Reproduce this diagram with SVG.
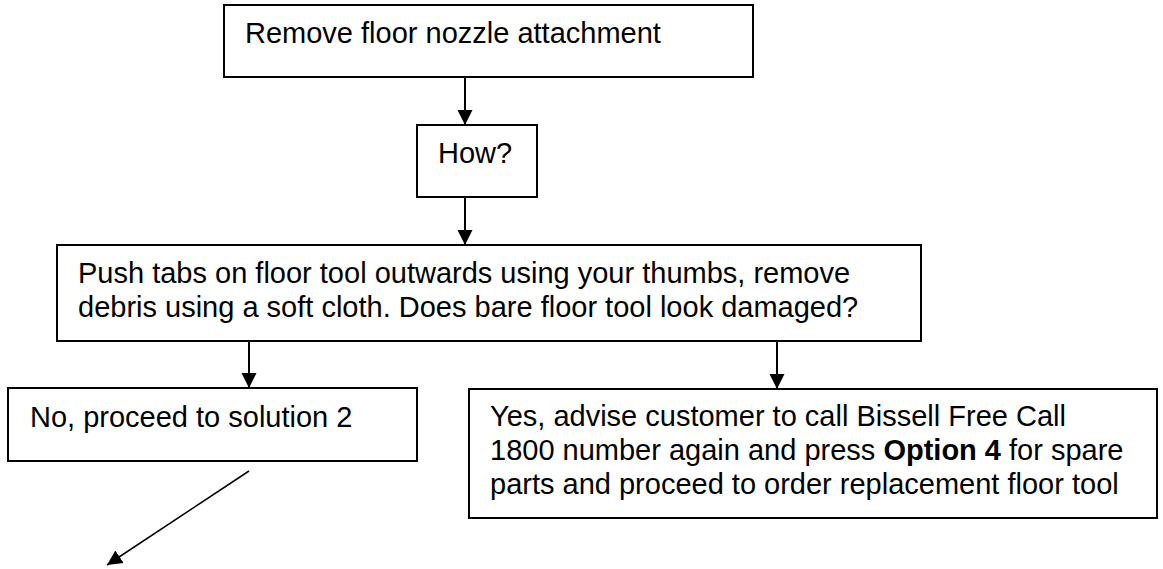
<svg xmlns="http://www.w3.org/2000/svg" width="1163" height="569" viewBox="0 0 1163 569">
  <style>
    .box { fill: #ffffff; stroke: #000000; stroke-width: 2; }
    .t { font-family: "Liberation Sans", Arial, sans-serif; font-size: 29px; fill: #000000; }
    .b { font-weight: bold; }
    .conn { stroke: #000000; stroke-width: 2; fill: none; }
    .diag { stroke: #000000; stroke-width: 1.5; fill: none; }
  </style>
  <defs>
    <marker id="arrow" markerUnits="userSpaceOnUse" markerWidth="16" markerHeight="16" viewBox="0 0 16 16" refX="15" refY="8" orient="auto">
      <path d="M0,0.5 L15,8 L0,15.5 Z" fill="#000000"/>
    </marker>
  </defs>
  <rect width="1163" height="569" fill="#ffffff"/>

  <g id="connectors">
    <line class="conn" x1="465" y1="77" x2="465" y2="125" marker-end="url(#arrow)"/>
    <line class="conn" x1="465" y1="197" x2="465" y2="245" marker-end="url(#arrow)"/>
    <line class="conn" x1="249" y1="341" x2="249" y2="388" marker-end="url(#arrow)"/>
    <line class="conn" x1="777" y1="341" x2="777" y2="389" marker-end="url(#arrow)"/>
    <line class="diag" x1="249" y1="471" x2="107" y2="565" marker-end="url(#arrow)"/>
  </g>

  <g id="node-remove">
    <rect class="box" x="224" y="5" width="529" height="72"/>
    <text class="t" x="245" y="43">Remove floor nozzle attachment</text>
  </g>

  <g id="node-how">
    <rect class="box" x="417" y="125" width="120" height="72"/>
    <text class="t" x="438" y="163">How?</text>
  </g>

  <g id="node-push">
    <rect class="box" x="57" y="245" width="864" height="96"/>
    <text class="t" x="78" y="283">Push tabs on floor tool outwards using your thumbs, remove</text>
    <text class="t" x="78" y="317">debris using a soft cloth. Does bare floor tool look damaged?</text>
  </g>

  <g id="node-no">
    <rect class="box" x="8" y="388" width="409" height="73"/>
    <text class="t" x="30" y="427">No, proceed to solution 2</text>
  </g>

  <g id="node-yes">
    <rect class="box" x="469" y="389" width="688" height="129"/>
    <text class="t" x="490" y="426">Yes, advise customer to call Bissell Free Call</text>
    <text class="t" x="490" y="460">1800 number again and press <tspan class="b">Option 4</tspan> for spare</text>
    <text class="t" x="490" y="494">parts and proceed to order replacement floor tool</text>
  </g>
</svg>
